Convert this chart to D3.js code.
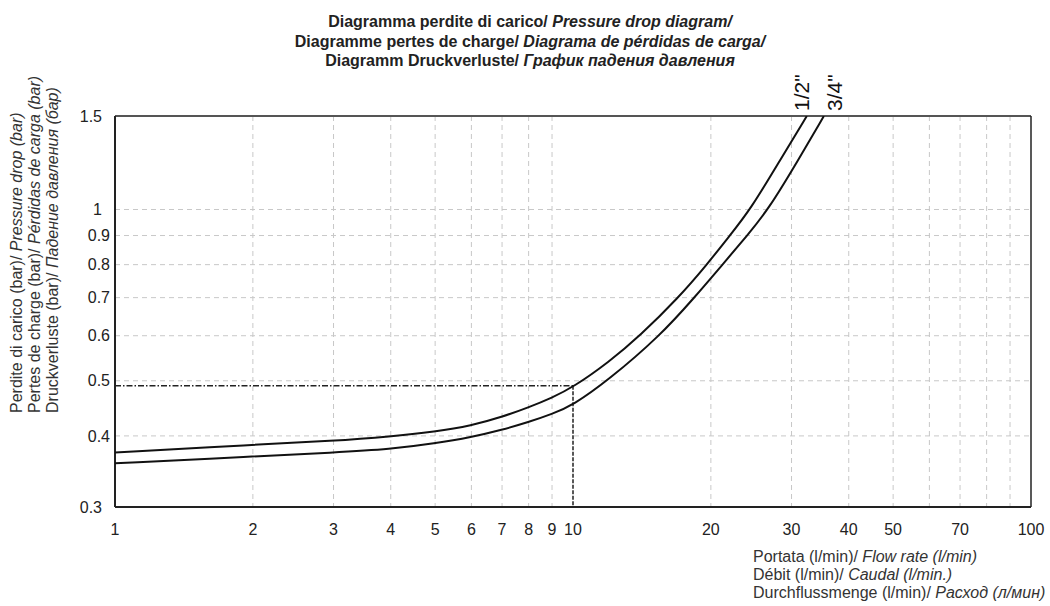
<!DOCTYPE html>
<html>
<head>
<meta charset="utf-8">
<script src="https://cdn.jsdelivr.net/npm/d3@7"></script>
<style>
  body { margin: 0; background: #fff; }
  svg { font-family: "Liberation Sans", Arial, sans-serif; }
</style>
</head>
<body>
<svg></svg>
<script>
var width = 1050
var height = 606

// flow rate (l/min) and pressure drop (bar)
var flowHalf = [1, 2, 3, 4, 5, 6, 7, 8, 9, 10, 12, 14, 17, 19.6, 22, 24.4, 28.3, 32.4]
var dropHalf = [0.374, 0.386, 0.392, 0.399, 0.407, 0.417, 0.432, 0.449, 0.467, 0.487, 0.54, 0.6, 0.7, 0.8, 0.9, 1.0, 1.22, 1.46]

var flowThreeQuarter = [1, 2, 3, 4, 5, 6, 7, 8, 9, 10, 11.9, 15.5, 18.4, 21.2, 24, 26.7, 31, 35.3]
var dropThreeQuarter = [0.358, 0.368, 0.374, 0.379, 0.388, 0.398, 0.41, 0.423, 0.437, 0.453, 0.5, 0.6, 0.7, 0.8, 0.9, 1.0, 1.22, 1.46]

var seriesNames = ["1/2\"", "3/4\""]

var xTicks = [1, 2, 3, 4, 5, 6, 7, 8, 9, 10, 20, 30, 40, 50, 70, 100]
var xGrid = [2, 3, 4, 5, 6, 7, 8, 9, 20, 30, 40, 50, 60, 70, 80, 90]
var yTicks = [0.3, 0.4, 0.5, 0.6, 0.7, 0.8, 0.9, 1, 1.5]
var yGrid = [0.4, 0.5, 0.6, 0.7, 0.8, 0.9, 1]

var markFlow = 10
var markDrop = 0.49

var titleLines = [
    ["Diagramma perdite di carico/ ", "Pressure drop diagram/"],
    ["Diagramme pertes de charge/ ", "Diagrama de pérdidas de carga/"],
    ["Diagramm Druckverluste/ ", "График падения давления"]
]
var yLabelLines = [
    ["Perdite di carico (bar)/ ", "Pressure drop (bar)"],
    ["Pertes de charge (bar)/ ", "Pérdidas de carga (bar)"],
    ["Druckverluste (bar)/ ", "Падение давления (бар)"]
]
var xLabelLines = [
    ["Portata (l/min)/ ", "Flow rate (l/min)"],
    ["Débit (l/min)/ ", "Caudal (l/min.)"],
    ["Durchflussmenge (l/min)/ ", "Расход (л/мин)"]
]

var plotLeft = 115, plotRight = 1031, plotTop = 116, plotBottom = 507

var xScale = d3.scaleLog()
    .domain([1, 100])
    .range([plotLeft, plotRight])

var yScale = d3.scaleLog()
    .domain([0.3, 1.46])
    .range([plotBottom, plotTop])
    .clamp(true)

var svg = d3.select("svg")
    .attr("width", width)
    .attr("height", height)

svg.append("defs").append("clipPath")
    .attr("id", "plot")
    .append("rect")
    .attr("x", plotLeft)
    .attr("y", plotTop)
    .attr("width", plotRight - plotLeft)
    .attr("height", plotBottom - plotTop)

// grid
svg.append("g")
    .selectAll("line")
    .data(xGrid)
    .enter()
    .append("line")
    .attr("x1", d => xScale(d))
    .attr("x2", d => xScale(d))
    .attr("y1", plotTop)
    .attr("y2", plotBottom)
    .attr("stroke", "#c8c8c8")
    .attr("stroke-dasharray", "5,4")

svg.append("g")
    .selectAll("line")
    .data(yGrid)
    .enter()
    .append("line")
    .attr("x1", plotLeft)
    .attr("x2", plotRight)
    .attr("y1", d => yScale(d))
    .attr("y2", d => yScale(d))
    .attr("stroke", "#c8c8c8")
    .attr("stroke-dasharray", "5,4")

// frame
svg.append("line")
    .attr("x1", plotLeft).attr("x2", plotRight)
    .attr("y1", plotTop).attr("y2", plotTop)
    .attr("stroke", "#555").attr("stroke-width", 2)
svg.append("line")
    .attr("x1", plotRight).attr("x2", plotRight)
    .attr("y1", plotTop).attr("y2", plotBottom)
    .attr("stroke", "#222").attr("stroke-width", 1.5)
svg.append("line")
    .attr("x1", plotLeft).attr("x2", plotLeft)
    .attr("y1", plotTop).attr("y2", plotBottom)
    .attr("stroke", "#222").attr("stroke-width", 2)
svg.append("line")
    .attr("x1", plotLeft).attr("x2", plotRight)
    .attr("y1", plotBottom).attr("y2", plotBottom)
    .attr("stroke", "#222").attr("stroke-width", 2)

// reading example at 10 l/min
svg.append("line")
    .attr("x1", xScale(1))
    .attr("x2", xScale(markFlow))
    .attr("y1", yScale(markDrop))
    .attr("y2", yScale(markDrop))
    .attr("stroke", "#222")
    .attr("stroke-width", 1.5)
    .attr("stroke-dasharray", "6,2,1.5,2")
svg.append("line")
    .attr("x1", xScale(markFlow))
    .attr("x2", xScale(markFlow))
    .attr("y1", yScale(markDrop))
    .attr("y2", yScale(0.3))
    .attr("stroke", "#222")
    .attr("stroke-width", 1.5)
    .attr("stroke-dasharray", "4,1.5")

// curves
var line = d3.line()
    .x(d => xScale(d[0]))
    .y(d => yScale(d[1]))
    .curve(d3.curveBasis)

var curves = [
    d3.zip(flowHalf, dropHalf),
    d3.zip(flowThreeQuarter, dropThreeQuarter)
]

svg.append("g")
    .attr("clip-path", "url(#plot)")
    .selectAll("path")
    .data(curves)
    .enter()
    .append("path")
    .attr("d", line)
    .attr("fill", "none")
    .attr("stroke", "#111")
    .attr("stroke-width", 2)

// curve names, rotated at the top end of each curve
svg.selectAll(".curve-name")
    .data(curves)
    .enter()
    .append("text")
    .attr("class", "curve-name")
    .attr("transform", (d, i) => `translate(${xScale(d[d.length - 1][0]) + (i ? 18 : 2)}, ${plotTop - 5}) rotate(-90)`)
    .attr("font-size", 21)
    .attr("fill", "#111")
    .text((d, i) => seriesNames[i])

// tick labels
svg.append("g")
    .selectAll("text")
    .data(xTicks)
    .enter()
    .append("text")
    .attr("x", d => xScale(d))
    .attr("y", plotBottom + 28)
    .attr("font-size", 16)
    .attr("fill", "#222")
    .style("text-anchor", "middle")
    .text(d => d)

svg.append("g")
    .selectAll("text")
    .data(yTicks)
    .enter()
    .append("text")
    .attr("x", d => (d < 0.35 || d > 0.95) ? plotLeft - 13 : plotLeft - 5)
    .attr("y", d => yScale(d))
    .attr("dy", "0.35em")
    .attr("font-size", 16)
    .attr("fill", "#222")
    .style("text-anchor", "end")
    .text(d => d)

// title
var title = svg.append("g")
    .selectAll("text")
    .data(titleLines)
    .enter()
    .append("text")
    .attr("x", 530)
    .attr("y", (d, i) => 27 + i * 19.5)
    .attr("font-size", 16)
    .attr("font-weight", "bold")
    .attr("fill", "#222")
    .style("text-anchor", "middle")
title.append("tspan").text(d => d[0])
title.append("tspan").attr("font-style", "italic").text(d => d[1])

// y axis label
var yLabel = svg.append("g")
    .selectAll("text")
    .data(yLabelLines)
    .enter()
    .append("text")
    .attr("transform", (d, i) => `translate(${22 + i * 18}, 413) rotate(-90)`)
    .attr("font-size", 16)
    .attr("fill", "#333")
yLabel.append("tspan").text(d => d[0])
yLabel.append("tspan").attr("font-style", "italic").text(d => d[1])

// x axis label
var xLabel = svg.append("g")
    .selectAll("text")
    .data(xLabelLines)
    .enter()
    .append("text")
    .attr("x", 753)
    .attr("y", (d, i) => 562 + i * 18)
    .attr("font-size", 16)
    .attr("fill", "#333")
xLabel.append("tspan").text(d => d[0])
xLabel.append("tspan").attr("font-style", "italic").text(d => d[1])
</script>
</body>
</html>
